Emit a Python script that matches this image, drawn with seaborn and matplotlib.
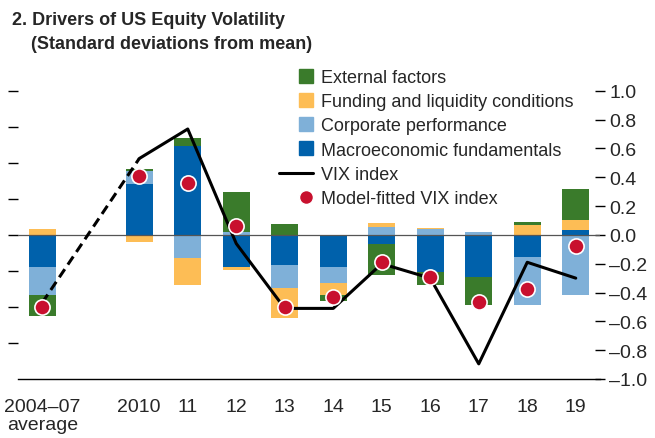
import numpy as np
import matplotlib
matplotlib.use("Agg")
import matplotlib.pyplot as plt
from matplotlib.lines import Line2D
from matplotlib.legend_handler import HandlerLine2D
import seaborn as sns

# Categories: slot 1 is left empty (gap between 2004-07 and 2010)
labels = ["2004–07\naverage", "2010", "11", "12", "13", "14", "15", "16", "17", "18", "19"]
slots = [0, 2, 3, 4, 5, 6, 7, 8, 9, 10, 11]

macro = [-0.225, 0.352, 0.616, -0.225, -0.21, -0.225, -0.065, -0.26, -0.294, -0.155, 0.032]
corporate = [-0.194, 0.09, -0.16, 0.019, -0.16, -0.111, 0.053, 0.039, 0.019, -0.331, -0.419]
funding = [0.039, -0.049, -0.185, -0.019, -0.206, -0.083, 0.032, 0.012, 0.0, 0.067, 0.069]
external = [-0.144, 0.014, 0.056, 0.278, 0.074, -0.04, -0.213, -0.088, -0.192, 0.021, 0.215]
vix = [-0.47, 0.53, 0.735, -0.06, -0.51, -0.51, -0.20, -0.30, -0.895, -0.19, -0.30]
fitted = [-0.50, 0.41, 0.36, 0.06, -0.50, -0.43, -0.185, -0.29, -0.463, -0.375, -0.08]

series = [
    ("Macroeconomic fundamentals", macro, "#0061ab"),
    ("Corporate performance", corporate, "#7fb0d8"),
    ("Funding and liquidity conditions", funding, "#fdbd55"),
    ("External factors", external, "#3a7b2b"),
]


class RightMarker(HandlerLine2D):
    # single marker placed at the right end of the handle box
    def get_xdata(self, legend, xdescent, ydescent, width, height, fontsize):
        x1 = -xdescent + width
        return np.array([x1 - 10.0, x1]), np.array([x1 - 5.0])


sns.set_style("white")
plt.rcParams["font.family"] = ["Liberation Sans Narrow", "Liberation Sans", "DejaVu Sans"]
FS = 13
TFS = 14

fig = plt.figure(figsize=(6.55, 4.39), dpi=100)
ax = fig.add_axes([18 / 655, 1 - 380 / 439, (600 - 18) / 655, (380 - 63) / 439])

# stacked bars, positives and negatives stacked separately
pos_base = np.zeros(len(slots))
neg_base = np.zeros(len(slots))
for name, vals, color in series:
    vals = np.array(vals)
    bottom = np.where(vals >= 0, pos_base, neg_base)
    ax.bar(slots, vals, bottom=bottom, width=0.56, color=color, linewidth=0, zorder=2)
    pos_base += np.clip(vals, 0, None)
    neg_base += np.clip(vals, None, 0)

ax.axhline(0, color="#555555", lw=0.9, zorder=3)

# VIX line: dashed across the gap, solid afterwards
sns.lineplot(x=slots[:2], y=vix[:2], ax=ax, color="black", lw=2.2, zorder=4,
             dashes=False, linestyle=(0, (3.2, 1.8)))
sns.lineplot(x=slots[1:], y=vix[1:], ax=ax, color="black", lw=2.2, zorder=4)
sns.scatterplot(x=slots, y=fitted, ax=ax, color="#c8102e", s=120, edgecolor="white",
                linewidth=1.2, zorder=5)

ax.set_xlim(-0.5, 11.5)
ax.set_ylim(-1.0, 1.2)
for s in ["top", "left", "right"]:
    ax.spines[s].set_visible(False)
ax.spines["bottom"].set_color("black")
ax.spines["bottom"].set_linewidth(1.0)

# x axis: tick marks at slot boundaries, labels at centres
ax.set_xticks(np.arange(-0.5, 12, 1.0), minor=True)
ax.set_xticks(slots)
ax.set_xticklabels(labels, fontsize=TFS, linespacing=1.05)
ax.tick_params(axis="x", which="major", length=0, pad=14)
ax.tick_params(axis="x", which="minor", direction="in", length=6, width=1.0, color="black")

# right axis labels
yt = np.round(np.arange(-1.0, 1.01, 0.2), 1) + 0.0
ax.yaxis.tick_right()
ax.set_yticks(yt)
ax.set_yticklabels([f"{v:.1f}".replace("-", "–") if abs(v) > 1e-9 else "0.0" for v in yt],
                   fontsize=TFS)
ax.tick_params(axis="y", which="major", direction="inout", length=7, width=1.0, pad=3,
               color="black")

# left axis: unlabelled tick marks
sec = ax.secondary_yaxis("left")
sec.set_yticks(np.arange(-0.75, 1.01, 0.25))
sec.set_yticklabels([])
sec.tick_params(direction="out", length=7, width=1.0, color="black")
sec.spines["left"].set_visible(False)

handles = [Line2D([], [], ls="none", marker="s", ms=10, color=c) for _, _, c in series[::-1]]
vix_handle = Line2D([], [], color="black", lw=2.2)
dot_handle = Line2D([], [], ls="none", marker="o", ms=10, color="#c8102e",
                    markeredgecolor="white")
handles += [vix_handle, dot_handle]
names = [n for n, _, _ in series[::-1]] + ["VIX index", "Model-fitted VIX index"]
handler_map = {h: RightMarker(numpoints=1) for h in handles if h is not vix_handle}
fig.legend(handles, names, loc="upper left", bbox_to_anchor=(279 / 655, 1 - 70 / 439),
           frameon=False, fontsize=FS, handlelength=1.9, handletextpad=0.4,
           labelspacing=0.4, borderpad=0, borderaxespad=0, handler_map=handler_map)

fig.text(12 / 655, 1 - 12 / 439, "2. Drivers of US Equity Volatility", fontsize=FS,
         fontweight="bold", va="top", ha="left")
fig.text(31 / 655, 1 - 36 / 439, "(Standard deviations from mean)", fontsize=FS,
         fontweight="bold", va="top", ha="left")

fig.savefig("out.png", dpi=100)
